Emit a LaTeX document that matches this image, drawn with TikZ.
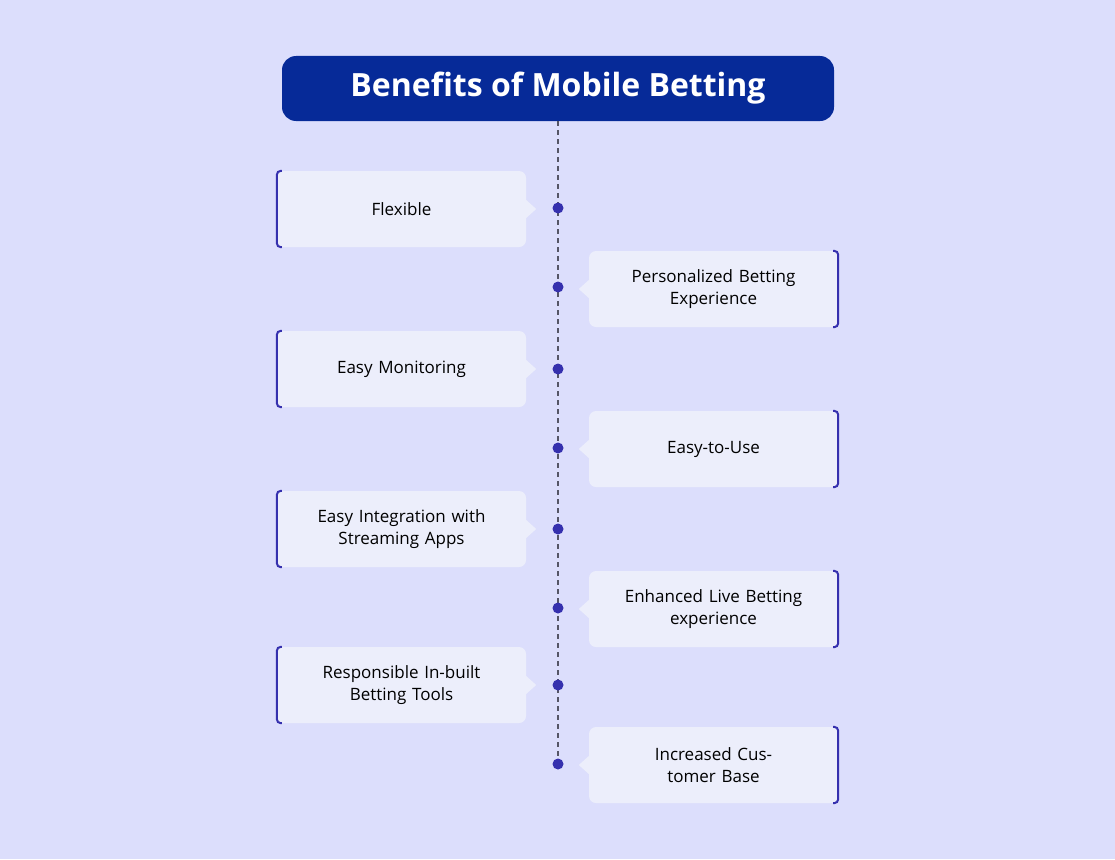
\documentclass[tikz,border=0pt]{standalone}
\usepackage{fontspec}
\setmainfont{Open Sans}
\usetikzlibrary{positioning}
\definecolor{bgcol}{HTML}{DCDEFC}
\definecolor{boxcol}{HTML}{ECEEFB}
\definecolor{navy}{HTML}{062A98}
\definecolor{accent}{HTML}{3530AE}
\definecolor{dashcol}{HTML}{555566}
\tikzset{
  item/.style={fill=boxcol, rounded corners=7pt, minimum width=249pt, minimum height=76pt,
    align=center, font=\fontsize{17}{22}\selectfont, text width=200pt},
  dot/.style={circle, fill=accent, inner sep=0pt, minimum size=11pt},
}
\begin{document}
\begin{tikzpicture}[x=1pt, y=-1pt]
  \fill[bgcol] (0,0) rectangle (1115,859);
  \node[fill=navy, rounded corners=14pt, minimum width=552pt, minimum height=65pt,
    text=white, font=\fontsize{32}{38}\selectfont\bfseries] (T) at (558,88.5) {Benefits of Mobile Betting};
  \coordinate (E) at (558,764);
  \draw[dashcol, line width=1.5pt, dash pattern=on 5pt off 4pt] (T.south) -- (E);

  \node[item] (b1) at (401.5,209) {Flexible};
  \node[item] (b2) at (713.5,289) {Personalized Betting\\Experience};
  \node[item] (b3) at (401.5,369) {Easy Monitoring};
  \node[item] (b4) at (713.5,449) {Easy-to-Use};
  \node[item] (b5) at (401.5,529) {Easy Integration with\\Streaming Apps};
  \node[item] (b6) at (713.5,609) {Enhanced Live Betting\\experience};
  \node[item] (b7) at (401.5,685) {Responsible In-built\\Betting Tools};
  \node[item] (b8) at (713.5,765) {Increased Customer Base};

  % pointers, accents and dots
  \foreach \n/\y in {1/208,3/369,5/529,7/685} {
    \fill[boxcol] (b\n.east) ++(0,-9) -- ++(10,9) -- ++(-10,9) -- cycle;
    \draw[accent, line width=2pt, rounded corners=4pt] (b\n.north west) ++(5,0) -| (b\n.south west) -- ++(5,0);
    \node[dot] (d\n) at (558,\y) {};
  }
  \foreach \n/\y in {2/287,4/448,6/608,8/764} {
    \fill[boxcol] (b\n.west) ++(0,-9) -- ++(-10,9) -- ++(10,9) -- cycle;
    \draw[accent, line width=2pt, rounded corners=4pt] (b\n.north east) ++(-5,0) -| (b\n.south east) -- ++(-5,0);
    \node[dot] (d\n) at (558,\y) {};
  }
\end{tikzpicture}
\end{document}
